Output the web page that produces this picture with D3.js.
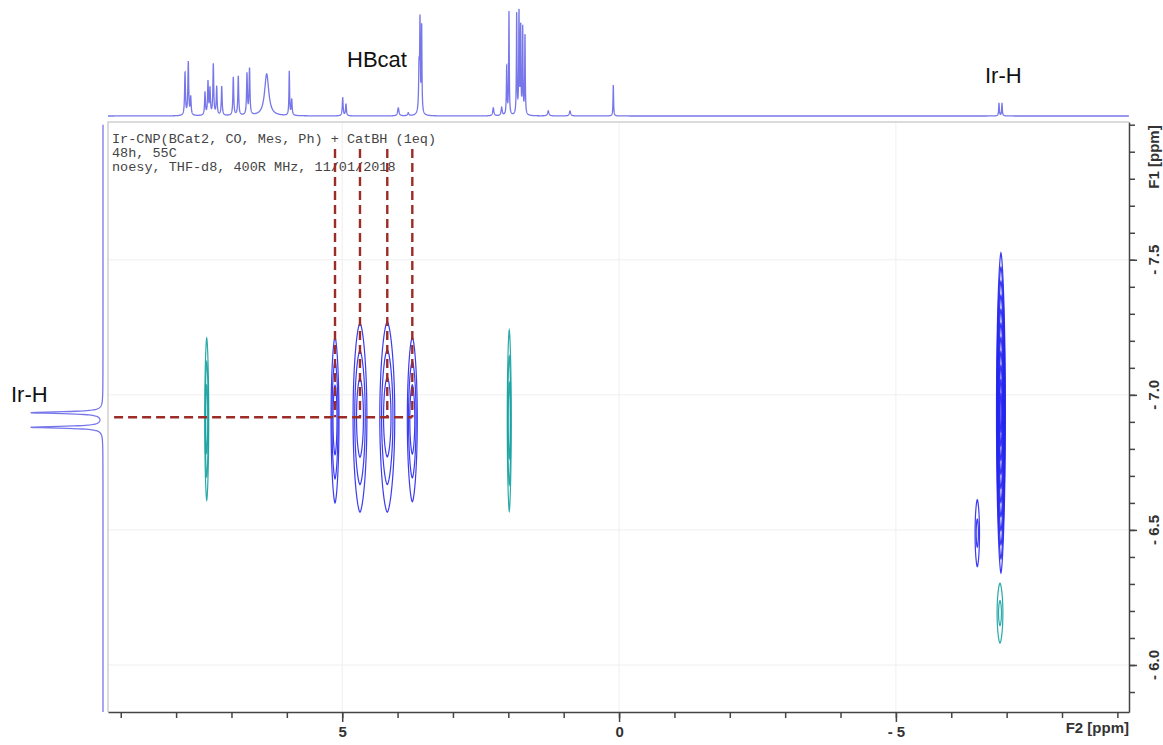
<!DOCTYPE html>
<html><head><meta charset="utf-8">
<script src="https://cdn.jsdelivr.net/npm/d3@7"></script>
<style>body{margin:0;background:#fff}svg{display:block}</style>
</head><body><svg id="c" width="1163" height="745"></svg>
<script>
// ---------- data ----------
const f2Ticks = [9,8,7,6,5,4,3,2,1,0,-1,-2,-3,-4,-5,-6,-7,-8,-9];
const f2Major = [5,0,-5];
const f2Labels = ["5","0","- 5"];
const f1Ticks = [-8.0,-7.9,-7.8,-7.7,-7.6,-7.5,-7.4,-7.3,-7.2,-7.1,-7.0,-6.9,-6.8,-6.7,-6.6,-6.5,-6.4,-6.3,-6.2,-6.1,-6.0,-5.9];
const f1Major = [-7.5,-7.0,-6.5,-6.0];
const f1Labels = ["- 7.5","- 7.0","- 6.5","- 6.0"];

// 2D cross peaks: F2 (ppm), F1 (ppm), half-widths (ppm), phase sign, contour levels
const peakF2    = [7.447, 5.130, 4.679, 4.186, 3.734, 1.983, -6.897, -6.470, -6.880];
const peakF1    = [-6.910, -6.907, -6.916, -6.918, -6.909, -6.905, -6.933, -6.488, -6.192];
const peakWF2   = [0.036, 0.072, 0.125, 0.135, 0.090, 0.036, 0.080, 0.040, 0.052];
const peakWF1   = [0.300, 0.307, 0.350, 0.352, 0.305, 0.335, 0.592, 0.124, 0.111];
const peakSign  = [-1, 1, 1, 1, 1, -1, 1, 1, -1];
const peakLevels= [3, 3, 3, 3, 3, 3, 11, 2, 2];

// 1D projection along F2 (top): ppm, intensity, half-width
const topPpm = [7.839,7.780,7.736,7.478,7.424,7.388,7.328,7.267,7.176,6.967,6.877,6.720,6.674,6.364,5.956,5.912,4.991,4.932,3.987,3.807,3.613,3.595,3.565,3.600,2.271,2.120,2.029,1.988,1.849,1.807,1.777,1.740,1.699,1.278,0.886,0.104,-6.862,-6.916];
const topInt = [43,53,18,23,33,26,51,28,29,38,39,41,46,42,44,16,18,12,8,3,36,76,86,20,8,8,49,103,103,103,88,86,81,5,5,31,13,13];
const topW   = [0.009,0.009,0.009,0.009,0.009,0.009,0.009,0.009,0.009,0.009,0.009,0.009,0.009,0.045,0.007,0.009,0.009,0.009,0.014,0.012,0.007,0.006,0.006,0.02,0.012,0.012,0.007,0.006,0.006,0.006,0.006,0.006,0.006,0.014,0.014,0.006,0.007,0.007];

// 1D projection along F1 (left)
const leftPpm = [-6.934, -6.880];
const leftInt = [72, 72];
const leftW   = [0.004, 0.004];

const headerLines = ["Ir-CNP(BCat2, CO, Mes, Ph) + CatBH (1eq)", "48h, 55C", "noesy, THF-d8, 400R MHz, 11/01/2018"];
const dashedPeaks = [1,2,3,4];
const dashF1Top = -7.91, dashF1 = -6.917, dashF2Start = 9.12;

// ---------- scales ----------
const svg = d3.select("#c");
const x = d3.scaleLinear().domain([9.23,-9.21]).range([108,1129]);
const y = d3.scaleLinear().domain([-8.01,-5.826]).range([122,712]);
const topY = d3.scaleLinear().domain([0,100]).range([116,16]);
const leftX = d3.scaleLinear().domain([0,100]).range([103,3]);

const [L,R] = x.range(), [T,B] = y.range();
const axisFont = "'Liberation Sans', Arial, sans-serif";

// grid
svg.append("g").selectAll("line").data(f2Major).join("line")
  .attr("x1",d=>x(d)).attr("x2",d=>x(d)).attr("y1",T).attr("y2",B)
  .attr("stroke","#efefef").attr("stroke-width",1);
svg.append("g").selectAll("line").data(f1Major).join("line")
  .attr("y1",d=>y(d)).attr("y2",d=>y(d)).attr("x1",L).attr("x2",R)
  .attr("stroke","#efefef").attr("stroke-width",1);

// frame (light)
svg.append("path").attr("d",`M${R},${T}H${L}V${B}`).attr("fill","none")
  .attr("stroke","#cfcfcf").attr("stroke-width",1.5);

// header text
svg.append("g").selectAll("text").data(headerLines).join("text")
  .attr("x",112).attr("y",(d,i)=>143+i*14)
  .attr("font-family","'Liberation Mono', monospace").attr("font-size",13.5)
  .attr("fill","#444").attr("xml:space","preserve").style("white-space","pre").text(d=>d);

// top projection
const lor = (p,ppm,int,w)=>d3.sum(ppm,(c,i)=>int[i]*w[i]*w[i]/((p-c)*(p-c)+w[i]*w[i]));
const topPts = d3.range(9.23,-9.21,-0.002).map(p=>[p, lor(p,topPpm,topInt,topW)]);
svg.append("path").datum(topPts)
  .attr("d",d3.line().x(d=>x(d[0])).y(d=>Math.max(8,topY(d[1]))))
  .attr("fill","none").attr("stroke","#5f5fe6").attr("stroke-width",1.3).attr("stroke-opacity",0.85);

// left projection
const leftPts = d3.range(-8.0,-5.826,0.0008).map(p=>[p, lor(p,leftPpm,leftInt,leftW)]);
svg.append("path").datum(leftPts)
  .attr("d",d3.line().y(d=>y(d[0])).x(d=>leftX(d[1])))
  .attr("fill","none").attr("stroke","#5f5fe6").attr("stroke-width",1.3).attr("stroke-opacity",0.85);

// contours
const contourLine = d3.line().x(d=>x(d[0])).y(d=>y(d[1])).curve(d3.curveLinearClosed);
const cg = svg.append("g");
peakF2.forEach((f2,i)=>{
  const n = peakLevels[i];
  const minS = n>5 ? 0.12 : 0.42;
  for(let k=0;k<n;k++){
    const s = n===1?1:1-k*(1-minS)/(n-1);
    const sw = Math.pow(s,0.8);
    const pts = d3.range(0,2*Math.PI,Math.PI/40).map(t=>{
      const c = Math.cos(t);
      return [f2 + peakWF2[i]*sw*Math.sign(c)*Math.pow(Math.abs(c),1.25),
              peakF1[i] + peakWF1[i]*s*Math.sin(t)];
    });
    cg.append("path").attr("d",contourLine(pts)).attr("fill","none")
      .attr("stroke", peakSign[i]>0 ? "#2626f0" : "#14a0a0")
      .attr("stroke-width",1.2).attr("stroke-opacity",0.9);
  }
});

// dashed guide lines
const dg = svg.append("g").attr("stroke","#9b2c27").attr("stroke-width",2.4)
  .attr("stroke-dasharray","9,5").attr("fill","none");
dg.selectAll("line.v").data(dashedPeaks).join("line").attr("class","v")
  .attr("x1",i=>x(peakF2[i])).attr("x2",i=>x(peakF2[i]))
  .attr("y1",y(dashF1Top)).attr("y2",y(dashF1));
dg.append("line").attr("x1",x(dashF2Start)).attr("x2",x(peakF2[dashedPeaks[dashedPeaks.length-1]]))
  .attr("y1",y(dashF1)).attr("y2",y(dashF1));

// bottom axis
const axStyle = g=>{g.selectAll("path,line").attr("stroke","#444").attr("stroke-width",1.5);
  g.selectAll("text").attr("fill","#333").attr("font-family",axisFont)
   .attr("font-weight","bold").attr("font-size",15);};
svg.append("g").attr("transform",`translate(0,${B})`)
  .call(d3.axisBottom(x).tickValues(f2Ticks).tickSize(6).tickSizeOuter(0).tickFormat(""))
  .call(axStyle);
svg.append("g").attr("transform",`translate(0,${B})`)
  .call(d3.axisBottom(x).tickValues(f2Major).tickSize(10).tickPadding(4).tickFormat((d,i)=>f2Labels[i]))
  .call(g=>g.select(".domain").remove()).call(axStyle);
svg.append("text").attr("x",R).attr("y",B+21).attr("text-anchor","end")
  .attr("fill","#333").attr("font-family",axisFont)
  .attr("font-weight","bold").attr("font-size",15).text("F2 [ppm]");

// right axis
svg.append("g").attr("transform",`translate(${R},0)`)
  .call(d3.axisRight(y).tickValues(f1Ticks).tickSize(6).tickSizeOuter(0).tickFormat(""))
  .call(axStyle);
svg.append("g").attr("transform",`translate(${R},0)`)
  .call(d3.axisRight(y).tickValues(f1Major).tickSize(8).tickFormat(""))
  .call(g=>g.select(".domain").remove()).call(axStyle);
const rl = svg.append("g").attr("fill","#333").attr("font-family",axisFont)
  .attr("font-weight","bold").attr("font-size",15).attr("text-anchor","middle");
rl.selectAll("text").data(f1Major).join("text")
  .attr("transform",d=>`translate(1159,${y(d)}) rotate(-90)`).text((d,i)=>f1Labels[i]);
rl.append("text").attr("transform",`translate(1159,157) rotate(-90)`).text("F1 [ppm]");

// annotations
const ann = svg.append("g").attr("font-family",axisFont).attr("font-size",22).attr("fill","#111");
ann.append("text").attr("x",347).attr("y",67).text("HBcat");
ann.append("text").attr("x",985).attr("y",83).text("Ir-H");
ann.append("text").attr("x",11).attr("y",402).text("Ir-H");
</script></body></html>
